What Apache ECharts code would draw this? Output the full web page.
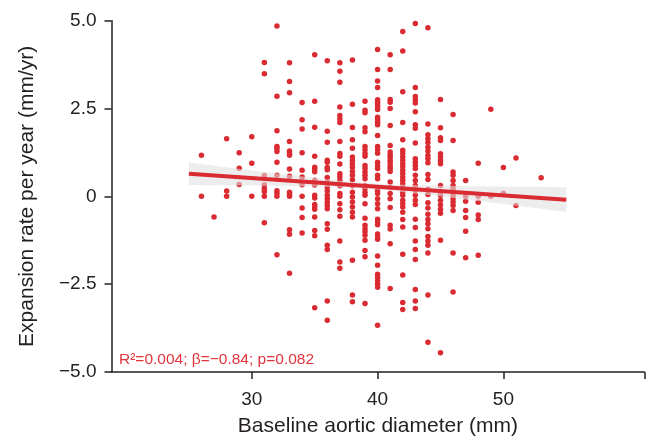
<!DOCTYPE html>
<html>
<head>
<meta charset="utf-8">
<script src="https://cdn.jsdelivr.net/npm/echarts@6/dist/echarts.min.js"></script>
<style>
html,body{margin:0;padding:0;background:#fff;}
#chart{width:648px;height:442px;}
</style>
</head>
<body>
<div id="chart"></div>
<script>
// Baseline aortic diameter (mm), one entry per column of points
const diameters = [26, 27, 28, 29, 30, 31, 32, 33, 34, 35, 36, 37, 38, 39, 40, 41, 42, 43, 44, 45, 46, 47, 48, 49, 50, 51, 53];
// Expansion rate per year (mm/yr) for each diameter column
const rates = [
  [1.17, 0.0],
  [-0.59],
  [1.64, 0.15, 0.0],
  [1.24, 0.8, 0.34],
  [1.70, 0.94, 0.0],
  [3.81, 3.49, 0.59, 0.33, 0.22, 0.14, 0.0, -0.75],
  [4.85, 2.85, 1.87, 1.42, 1.36, 1.28, 0.97, 0.6, 0.16, 0.09, 0.0, -1.66],
  [3.80, 3.27, 2.95, 1.56, 1.29, 1.23, 1.17, 0.78, 0.57, 0.12, 0.06, 0.0, -0.95, -1.08, -2.19],
  [2.67, 2.18, 1.92, 1.24, 0.74, 0.55, 0.33, 0.0, -0.33, -0.6, -1.04],
  [4.03, 2.71, 1.97, 1.14, 0.83, 0.77, 0.70, 0.46, 0.39, 0.32, 0.03, -0.05, -0.23, -0.30, -0.37, -0.59, -0.97, -1.12, -3.17],
  [3.86, 1.85, 1.54, 1.03, 0.97, 0.82, 0.76, 0.54, 0.4, 0.26, 0.15, 0.03, -0.07, -0.16, -0.25, -0.35, -0.78, -0.94, -1.39, -1.51, -2.98, -3.53],
  [3.80, 3.56, 3.25, 2.54, 2.30, 2.20, 2.10, 1.56, 1.22, 1.14, 0.92, 0.64, 0.56, 0.45, 0.30, 0.08, 0.0, -0.21, -0.38, -0.57, -1.27, -1.87, -2.05],
  [3.88, 2.62, 1.96, 1.61, 1.37, 1.12, 1.02, 0.93, 0.83, 0.71, 0.60, 0.47, 0.30, 0.12, -0.02, -0.16, -0.30, -0.45, -0.59, -1.82, -2.81, -3.0],
  [2.71, 2.45, 2.38, 1.95, 1.84, 1.42, 1.33, 1.23, 1.14, 0.88, 0.79, 0.69, 0.60, 0.50, 0.31, 0.22, 0.12, 0.03, -0.21, -0.62, -0.82, -0.92, -1.01, -1.11, -1.25, -1.54, -1.72, -3.05],
  [4.18, 3.61, 3.28, 3.10, 2.75, 2.68, 2.61, 2.54, 2.47, 2.25, 2.18, 2.11, 2.04, 1.73, 1.42, 1.33, 1.23, 0.97, 0.88, 0.79, 0.60, 0.50, 0.17, 0.08, -0.07, -0.21, -0.35, -0.65, -0.73, -0.81, -1.07, -1.16, -1.22, -1.70, -1.96, -2.22, -2.30, -2.40, -2.50, -2.59, -3.67],
  [4.03, 3.61, 2.76, 2.68, 2.50, 2.02, 1.45, 1.26, 1.18, 1.11, 1.02, 0.95, 0.86, 0.79, 0.71, 0.41, 0.26, 0.08, -0.07, -0.32, -0.82, -0.93, -1.35, -2.62],
  [4.69, 4.14, 2.98, 2.10, 1.61, 1.31, 1.22, 1.12, 1.03, 0.93, 0.84, 0.74, 0.65, 0.55, 0.46, 0.36, 0.26, 0.12, 0.03, -0.11, -0.21, -0.30, -0.45, -0.66, -0.87, -1.65, -2.24, -3.02, -3.22],
  [4.92, 3.10, 2.84, 2.75, 2.66, 2.41, 2.04, 1.94, 1.52, 1.07, 0.97, 0.88, 0.79, 0.60, 0.45, 0.31, 0.17, 0.03, -0.11, -0.23, -0.65, -0.89, -1.27, -1.51, -1.80, -2.65, -2.98, -3.19],
  [4.80, 2.06, 1.75, 1.64, 1.53, 1.40, 1.29, 1.16, 1.07, 0.96, 0.62, 0.48, 0.20, 0.05, -0.18, -0.33, -0.51, -0.66, -0.78, -0.92, -1.14, -1.27, -1.39, -1.61, -2.81, -4.15],
  [2.76, 1.95, 1.67, 1.59, 1.21, 1.12, 1.02, 0.93, 0.31, 0.14, 0.03, -0.11, -0.24, -0.37, -0.48, -1.25, -4.45],
  [2.33, 1.59, 0.69, 0.60, 0.45, 0.31, 0.22, 0.12, 0.03, -0.07, -0.16, -0.26, -0.40, -1.61, -2.72],
  [0.45, 0.0, -0.14, -0.40, -0.60, -0.99, -1.75],
  [0.94, 0.0, -0.17, -0.53, -0.66, -1.68],
  [2.48, 0.0],
  [0.82, 0.09],
  [1.09, -0.26],
  [0.53]
];
// Fitted regression line end points
const fitX = [25, 55];
const fitY = [0.645, -0.094];
// Confidence band
const bandX = [25, 27.5, 30, 32.5, 35, 37.5, 40, 42.5, 45, 47.5, 50, 52.5, 55];
const bandLow = [0.325, 0.316, 0.306, 0.294, 0.278, 0.249, 0.194, 0.106, 0.002, -0.108, -0.220, -0.334, -0.449];
const bandHigh = [0.965, 0.850, 0.738, 0.626, 0.520, 0.425, 0.358, 0.322, 0.302, 0.290, 0.278, 0.270, 0.261];
// Axis ticks
const xTicks = [30, 40, 50];
const yTicks = [-5, -2.5, 0, 2.5, 5];
const annotation = 'R\u00B2=0.004; \u03B2=\u22120.84; p=0.082';

const RED = '#da2a32';
const INK = '#231f20';
const FONT = '"Liberation Sans", Arial, Helvetica, sans-serif';

const points = [];
diameters.forEach((d, i) => rates[i].forEach(r => points.push([d, r])));
const fitData = fitX.map((x, i) => [x, fitY[i]]);

const chart = echarts.init(document.getElementById('chart'), null, {renderer: 'canvas'});
chart.setOption({
  animation: false,
  backgroundColor: '#fff',
  grid: {left: 111.5, right: 3.7, top: 20.7, bottom: 70, containLabel: false},
  xAxis: {
    type: 'value', min: 18.85, max: 61.2,
    name: 'Baseline aortic diameter (mm)', nameLocation: 'middle', nameGap: 44,
    nameTextStyle: {fontFamily: FONT, fontSize: 21, color: INK},
    axisLine: {show: true, onZero: false, lineStyle: {color: INK, width: 1.5}},
    axisTick: {show: true, length: 7, lineStyle: {color: INK, width: 1.5}, customValues: xTicks.concat([61.2])},
    axisLabel: {fontFamily: FONT, fontSize: 19, color: INK, margin: 18, customValues: xTicks},
    splitLine: {show: false}
  },
  yAxis: {
    type: 'value', min: -5, max: 5, interval: 2.5,
    name: 'Expansion rate per year (mm/yr)', nameLocation: 'middle', nameGap: 74,
    nameTextStyle: {fontFamily: FONT, fontSize: 21, color: INK},
    axisLine: {show: true, onZero: false, lineStyle: {color: INK, width: 1.5}},
    axisTick: {show: true, length: 7, lineStyle: {color: INK, width: 1.5}},
    axisLabel: {fontFamily: FONT, fontSize: 19, color: INK, margin: 15,
      formatter: v => v === 0 ? '0' : (v < 0 ? '\u2212' : '') + Math.abs(v).toFixed(1)},
    splitLine: {show: false}
  },
  graphic: [{
    type: 'text', left: 119, top: 352, z: 100,
    style: {text: annotation, fill: '#e2343c', font: '15.5px ' + FONT}
  }],
  series: [
    {
      type: 'scatter', data: points, symbolSize: 5.5, z: 2,
      itemStyle: {color: RED, opacity: 1}
    },
    {
      type: 'custom', z: 3, data: [0], silent: true,
      renderItem: (params, api) => {
        const pts = [];
        bandX.forEach((x, i) => pts.push(api.coord([x, bandHigh[i]])));
        for (let i = bandX.length - 1; i >= 0; i--) pts.push(api.coord([bandX[i], bandLow[i]]));
        return {type: 'polygon', shape: {points: pts}, style: {fill: 'rgba(224,224,224,0.58)'}};
      }
    },
    {
      type: 'line', data: fitData, showSymbol: false, symbol: 'none', z: 4,
      lineStyle: {color: RED, width: 4}
    }
  ]
});
</script>
</body>
</html>
